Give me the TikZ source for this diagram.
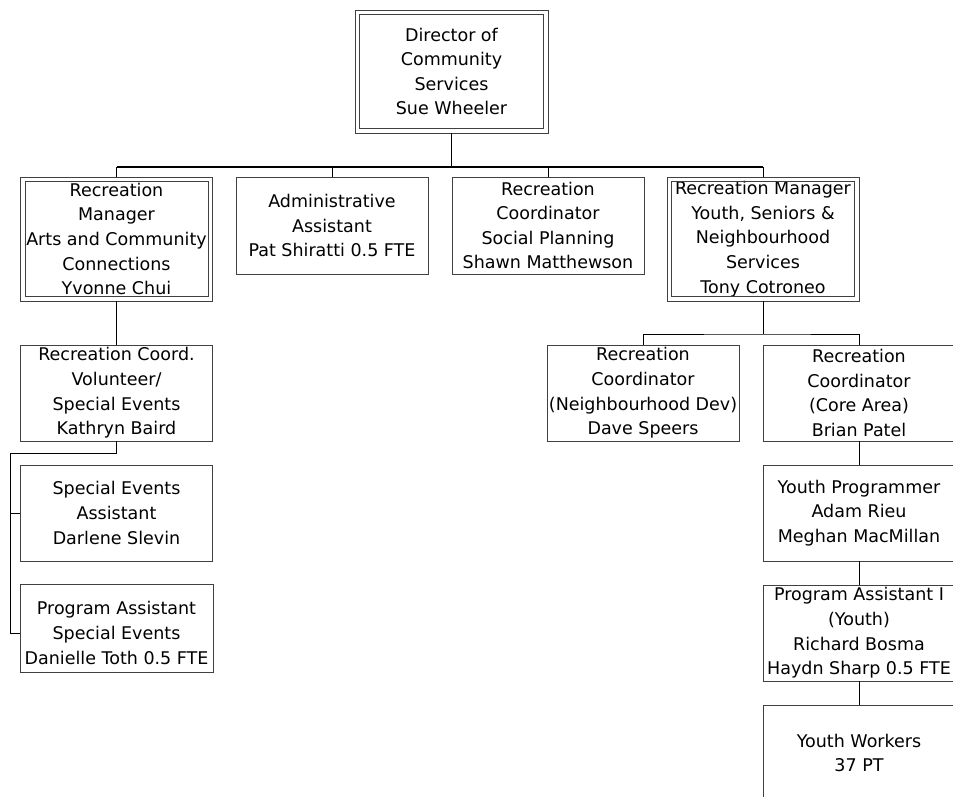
\documentclass[tikz,border=0pt]{standalone}
\usepackage{fontspec}
\setmainfont{DejaVu Sans}
\begin{document}
\begin{tikzpicture}[x=1pt,y=-1pt,
  box/.style={draw=black!75,line width=0.9pt,fill=white,minimum width=192pt,minimum height=96pt,
    inner sep=0pt,align=center,font=\fontsize{17.5}{24.6}\selectfont},
  dbox/.style={box,minimum width=192pt,minimum height=124pt},
  frame/.style={draw=black!75,line width=0.9pt},
  link/.style={draw=black,line width=0.9pt},
  heavy/.style={draw=black,line width=1.8pt}]
\useasboundingbox (0,0) rectangle (953,796);
\clip (0,0) rectangle (953,796);
\coordinate (busY) at (0,167);
\coordinate (rbusY) at (0,334);
\coordinate (lft) at (10,453);
% nodes
\node[dbox,minimum width=193pt,minimum height=123pt] (dir) at (451.5,71.5) {Director of\\Community\\Services\\Sue Wheeler};
\node[dbox] (lm) at (116.5,239) {Recreation\\Manager\\Arts and Community\\Connections\\Yvonne Chui};
\node[box,minimum height=97pt] (adm) at (332,225.5) {Administrative\\Assistant\\Pat Shiratti 0.5 FTE};
\node[box,minimum height=97pt] (soc) at (548,225.5) {Recreation\\Coordinator\\Social Planning\\Shawn Matthewson};
\node[dbox] (rm) at (763,239) {Recreation Manager\\Youth, Seniors \&\\Neighbourhood\\Services\\Tony Cotroneo};
\node[box] (vol) at (116.5,393) {Recreation Coord.\\Volunteer/\\Special Events\\Kathryn Baird};
\node[box] (sea) at (116.5,513) {Special Events\\Assistant\\Darlene Slevin};
\node[box,draw=none,fill=none] (pa) at (116.5,633) {Program Assistant\\Special Events\\Danielle Toth 0.5 FTE};
\draw[frame] (pa.north west) rectangle ([yshift=9pt]pa.south east);
\node[box] (ndev) at (643,393) {Recreation\\Coordinator\\(Neighbourhood Dev)\\Dave Speers};
\node[box] (core) at (859,393) {Recreation\\Coordinator\\(Core Area)\\Brian Patel};
\node[box] (yp) at (859,513) {Youth Programmer\\Adam Rieu\\Meghan MacMillan};
\node[box] (pai) at (859,633) {Program Assistant I\\(Youth)\\Richard Bosma\\Haydn Sharp 0.5 FTE};
\node[box] (yw) at (859,753) {Youth Workers\\37 PT};
% inner frames of the double boxes
\foreach \n in {dir,lm,rm}{
  \draw[frame] ([shift={(5pt,-5pt)}]\n.north west) rectangle ([shift={(-5pt,5pt)}]\n.south east);
}
% connectors
\draw[heavy] (dir.south) -- (dir.south |- busY);
\draw[heavy] (lm.north |- busY) -- (rm.north |- busY);
\draw[link] (lm.north |- busY) -- (lm.north);
\draw[link] (adm.north |- busY) -- (adm.north);
\draw[link] (soc.north |- busY) -- (soc.north);
\draw[link] (rm.north |- busY) -- (rm.north);
\draw[link] (lm.south) -- (vol.north);
\draw[link] (vol.south) |- (lft) |- (pa.west);
\draw[link] (lft |- sea.west) -- (sea.west);
\draw[link] (rm.south) -- (rm.south |- rbusY);
\draw[link] (ndev.north) |- (rm.south |- rbusY) -| (core.north);
\draw[link] (core.south) -- (yp.north);
\draw[link] (yp.south) -- (pai.north);
\draw[link] (pai.south) -- (yw.north);
\end{tikzpicture}
\end{document}
